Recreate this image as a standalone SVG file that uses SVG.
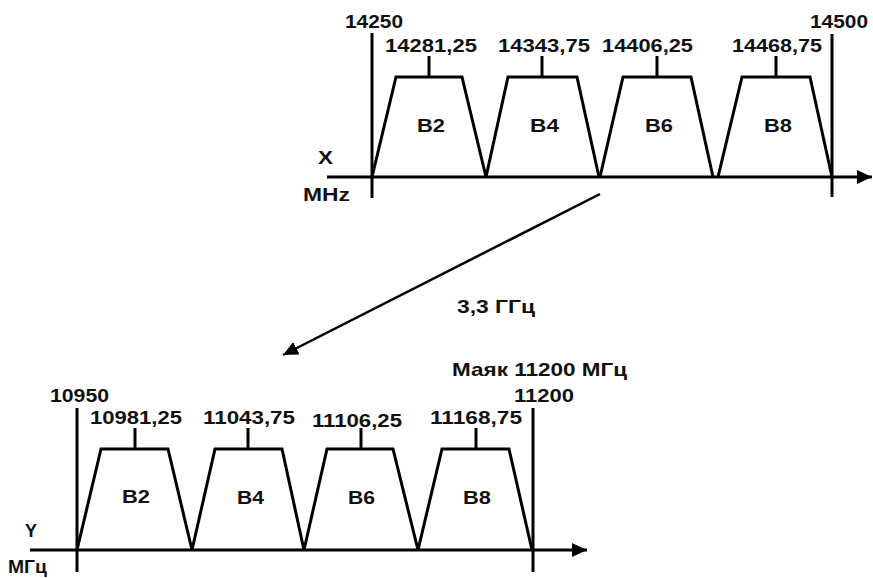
<svg xmlns="http://www.w3.org/2000/svg" width="873" height="578" viewBox="0 0 873 578">
<defs>
<style>
.ln{fill:none;stroke:#000;stroke-width:3;stroke-linejoin:miter}
.ax{fill:none;stroke:#000;stroke-width:3}
.t{font-family:"Liberation Sans",Arial,sans-serif;font-weight:bold;font-size:18.5px;fill:#111}
</style>
<marker id="ah" markerUnits="userSpaceOnUse" markerWidth="16" markerHeight="14" refX="15" refY="7" orient="auto">
<path d="M0,0 L15,7 L0,14 Z" fill="#000"/>
</marker>
</defs>
<rect width="873" height="578" fill="#fff"/>

<g id="top-spectrum">
<line class="ax" x1="327" y1="177" x2="872" y2="177" marker-end="url(#ah)"/>
<line class="ax" x1="372" y1="33" x2="372" y2="198"/>
<line class="ax" x1="832" y1="34" x2="832" y2="197"/>
<g id="top-B2"><polyline class="ln" points="372,177 396,77 462,77 486,177"/><line class="ln" x1="429" y1="56" x2="429" y2="77"/><text class="t" x="417" y="132" textLength="28" lengthAdjust="spacingAndGlyphs">B2</text></g>
<g id="top-B4"><polyline class="ln" points="486,177 508,77 577,77 599,177"/><line class="ln" x1="542" y1="56" x2="542" y2="77"/><text class="t" x="530" y="132" textLength="29" lengthAdjust="spacingAndGlyphs">B4</text></g>
<g id="top-B6"><polyline class="ln" points="600,177 623,77 691,77 713,177"/><line class="ln" x1="657" y1="56" x2="657" y2="77"/><text class="t" x="645" y="132" textLength="28" lengthAdjust="spacingAndGlyphs">B6</text></g>
<g id="top-B8"><polyline class="ln" points="718,177 742,77 810,77 832,177"/><line class="ln" x1="776" y1="56" x2="776" y2="77"/><text class="t" x="764" y="132" textLength="28" lengthAdjust="spacingAndGlyphs">B8</text></g>
<text class="t" x="345" y="28" textLength="58" lengthAdjust="spacingAndGlyphs">14250</text>
<text class="t" x="385" y="52" textLength="92" lengthAdjust="spacingAndGlyphs">14281,25</text>
<text class="t" x="498" y="52" textLength="92" lengthAdjust="spacingAndGlyphs">14343,75</text>
<text class="t" x="602" y="52" textLength="91" lengthAdjust="spacingAndGlyphs">14406,25</text>
<text class="t" x="732" y="52" textLength="90" lengthAdjust="spacingAndGlyphs">14468,75</text>
<text class="t" x="810" y="28" textLength="58" lengthAdjust="spacingAndGlyphs">14500</text>
<text class="t" x="318" y="164" textLength="15" lengthAdjust="spacingAndGlyphs">X</text>
<text class="t" x="303" y="201" textLength="47" lengthAdjust="spacingAndGlyphs">MHz</text>
</g>

<g id="bottom-spectrum">
<line class="ax" x1="30" y1="550" x2="587" y2="550" marker-end="url(#ah)"/>
<line class="ax" x1="77" y1="408" x2="77" y2="572"/>
<line class="ax" x1="533" y1="408" x2="533" y2="572"/>
<g id="bot-B2"><polyline class="ln" points="77,550 101,449 168,449 192,550"/><line class="ln" x1="135" y1="428" x2="135" y2="449"/><text class="t" x="122" y="503" textLength="28" lengthAdjust="spacingAndGlyphs">B2</text></g>
<g id="bot-B4"><polyline class="ln" points="192,550 215,449 282,449 304,550"/><line class="ln" x1="248" y1="428" x2="248" y2="449"/><text class="t" x="237" y="504" textLength="27" lengthAdjust="spacingAndGlyphs">B4</text></g>
<g id="bot-B6"><polyline class="ln" points="304,550 327,449 393,449 418,550"/><line class="ln" x1="361" y1="428" x2="361" y2="449"/><text class="t" x="348" y="504" textLength="27" lengthAdjust="spacingAndGlyphs">B6</text></g>
<g id="bot-B8"><polyline class="ln" points="418,550 442,449 509,449 532,550"/><line class="ln" x1="476" y1="428" x2="476" y2="449"/><text class="t" x="463" y="504" textLength="28" lengthAdjust="spacingAndGlyphs">B8</text></g>
<text class="t" x="50" y="402" textLength="59" lengthAdjust="spacingAndGlyphs">10950</text>
<text class="t" x="90" y="424" textLength="92" lengthAdjust="spacingAndGlyphs">10981,25</text>
<text class="t" x="203" y="424" textLength="92" lengthAdjust="spacingAndGlyphs">11043,75</text>
<text class="t" x="312" y="427" textLength="90" lengthAdjust="spacingAndGlyphs">11106,25</text>
<text class="t" x="430" y="424" textLength="92" lengthAdjust="spacingAndGlyphs">11168,75</text>
<text class="t" x="514" y="402" textLength="60" lengthAdjust="spacingAndGlyphs">11200</text>
<text class="t" x="452" y="376" textLength="175" lengthAdjust="spacingAndGlyphs">Маяк 11200 МГц</text>
<text class="t" x="25" y="537" textLength="12" lengthAdjust="spacingAndGlyphs">Y</text>
<text class="t" x="8" y="573" textLength="39" lengthAdjust="spacingAndGlyphs">МГц</text>
</g>

<g id="connectors">
<line x1="600" y1="194" x2="283" y2="355" stroke="#000" stroke-width="2.5" marker-end="url(#ah)"/>
<text class="t" x="457" y="313" textLength="78" lengthAdjust="spacingAndGlyphs">3,3 ГГц</text>
</g>
</svg>
